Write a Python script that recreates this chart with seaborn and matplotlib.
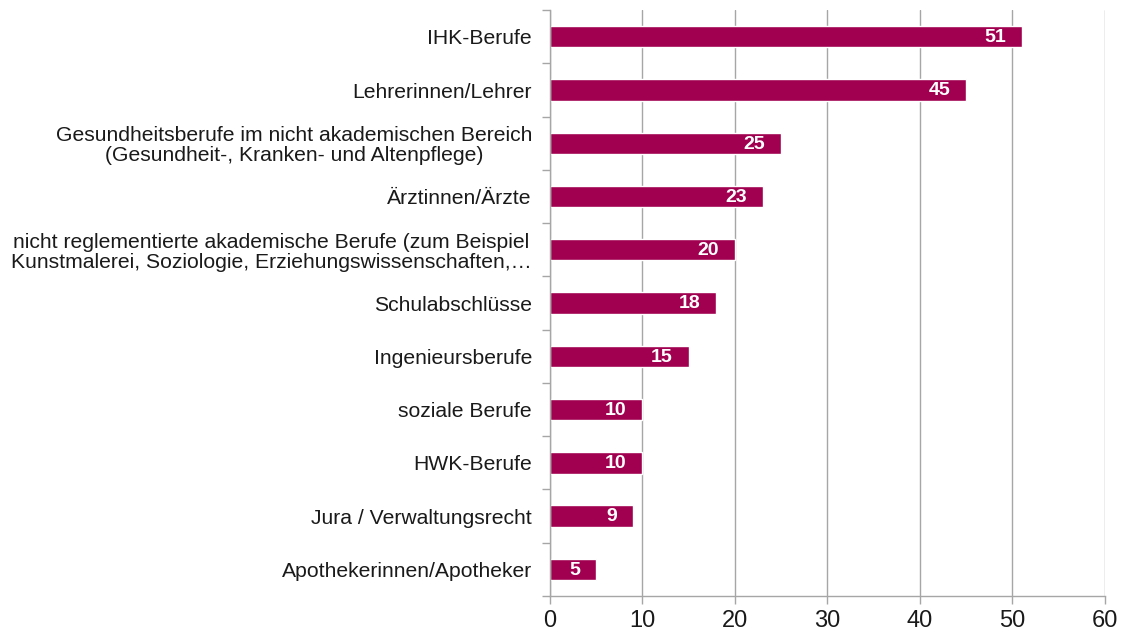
import matplotlib
matplotlib.use("Agg")
import matplotlib.pyplot as plt
import seaborn as sns
import numpy as np

# Daten
berufe = [
    "IHK-Berufe",
    "Lehrerinnen/Lehrer",
    "Gesundheitsberufe im nicht akademischen Bereich\n(Gesundheit-, Kranken- und Altenpflege)",
    "Ärztinnen/Ärzte",
    "nicht reglementierte akademische Berufe (zum Beispiel\nKunstmalerei, Soziologie, Erziehungswissenschaften,…",
    "Schulabschlüsse",
    "Ingenieursberufe",
    "soziale Berufe",
    "HWK-Berufe",
    "Jura / Verwaltungsrecht",
    "Apothekerinnen/Apotheker",
]
anzahl = [51, 45, 25, 23, 20, 18, 15, 10, 10, 9, 5]
x_ticks = [0, 10, 20, 30, 40, 50, 60]

BAR_COLOR = "#A0004F"
GRID_COLOR = "#A6A6A6"
TEXT_COLOR = "#1A1A1A"

sns.set_style("white")
plt.rcParams["font.family"] = ["Liberation Sans", "DejaVu Sans"]

fig = plt.figure(figsize=(11.21, 6.35), dpi=100)
ax = fig.add_axes([0.4906, 0.0614, 0.4951, 0.9226])

sns.barplot(x=anzahl, y=berufe, color=BAR_COLOR, width=0.4, saturation=1, ax=ax, orient="h")

ax.set_xlim(0, 60)
ax.set_xticks(x_ticks)
ax.set_xticklabels([str(t) for t in x_ticks], fontsize=17, color=TEXT_COLOR)
ax.set_ylim(len(berufe) - 0.5, -0.5)

# Gitterlinien
ax.grid(axis="x", color=GRID_COLOR, linewidth=1)
ax.set_axisbelow(True)

# Achsen
for s in ["top", "right"]:
    ax.spines[s].set_visible(False)
for s in ["left", "bottom"]:
    ax.spines[s].set_color(GRID_COLOR)
    ax.spines[s].set_linewidth(1)

ax.tick_params(axis="x", length=6, color=GRID_COLOR, width=1, pad=4, bottom=True)
ax.tick_params(axis="y", which="major", length=0, pad=13)
ax.set_yticks(np.arange(len(berufe) + 1) - 0.5, minor=True)
ax.tick_params(axis="y", which="minor", length=6, color=GRID_COLOR, width=1, left=True)
for lbl in ax.get_yticklabels():
    lbl.set_fontsize(15.2)
    lbl.set_color(TEXT_COLOR)
    lbl.set_multialignment("center")
    lbl.set_linespacing(1.05)

ax.set_xlabel("")
ax.set_ylabel("")

# Werte in den Balken
for i, v in enumerate(anzahl):
    ax.annotate(str(v), xy=(v, i), xytext=(-11.5, -0.5), textcoords="offset points",
                ha="right", va="center", color="white", fontsize=14, fontweight="bold")

fig.savefig("out.png", dpi=100)
